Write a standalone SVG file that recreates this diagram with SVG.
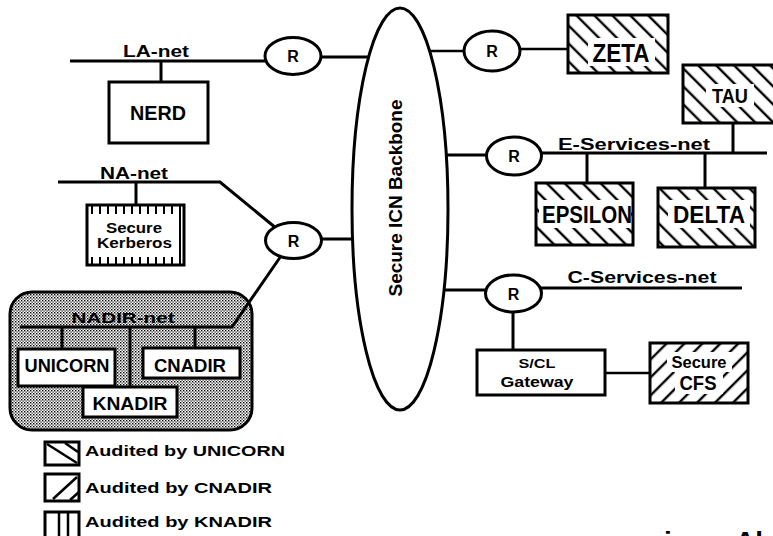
<svg xmlns="http://www.w3.org/2000/svg" width="773" height="536" viewBox="0 0 773 536">
<style>
.ln{stroke:#000;stroke-width:3;fill:none}
.thin{stroke:#000;stroke-width:2.5;fill:none}
.box{fill:#fff;stroke:#000;stroke-width:3}
.rt{fill:#fff;stroke:#000;stroke-width:3}
.w{fill:#fff}
.t{font-family:"Liberation Sans",Arial,sans-serif;font-weight:bold;fill:#000}
</style>
<defs>
<pattern id="hU" width="12.7" height="12.7" patternUnits="userSpaceOnUse" patternTransform="rotate(-45)">
<rect width="12.7" height="12.7" fill="#fff"/>
<line x1="3" y1="0" x2="3" y2="12.7" stroke="#000" stroke-width="2.4"/>
</pattern>
<pattern id="hC" width="12.7" height="12.7" patternUnits="userSpaceOnUse" patternTransform="rotate(45)">
<rect width="12.7" height="12.7" fill="#fff"/>
<line x1="3" y1="0" x2="3" y2="12.7" stroke="#000" stroke-width="2.4"/>
</pattern>
<pattern id="hK" width="8" height="8" patternUnits="userSpaceOnUse">
<rect width="8" height="8" fill="#fff"/>
<line x1="4" y1="0" x2="4" y2="8" stroke="#000" stroke-width="2"/>
</pattern>
<pattern id="stip" width="3" height="3" patternUnits="userSpaceOnUse">
<rect width="3" height="3" fill="#fff"/>
<rect x="0" y="0" width="1.4" height="1.4" fill="#000"/>
<rect x="1.5" y="1.5" width="1.2" height="1.2" fill="#000"/>
</pattern>
</defs>

<!-- NADIR container -->
<g id="nadir-net-area">
<rect x="10" y="292" width="242" height="138" rx="22" fill="url(#stip)" stroke="#000" stroke-width="3"/>
<text class="t" x="123" y="323" font-size="15" text-anchor="middle" textLength="103" lengthAdjust="spacingAndGlyphs">NADIR-net</text>
</g>

<g id="connectors">
<path class="ln" d="M70,61 H266"/>
<path class="ln" d="M320,57 H385"/>
<path class="ln" d="M161,61 V82"/>
<path class="thin" d="M420,51 H464"/>
<path class="thin" d="M520,49 H568"/>
<path class="ln" d="M733,123 V153"/>
<path class="ln" d="M430,155 H487"/>
<path class="ln" d="M541,153 H767"/>
<path class="ln" d="M587,153 V183"/>
<path class="ln" d="M705,153 V188"/>
<path class="ln" d="M430,290 H486"/>
<path class="ln" d="M541,288 H742"/>
<path class="ln" d="M513,312 V350"/>
<path class="thin" d="M605,373 H650"/>
<path class="ln" d="M58,182 H220 L282,233"/>
<path class="ln" d="M321,239 H385"/>
<path class="ln" d="M136,182 V205"/>
<path class="ln" d="M20,327 H232 L281,256"/>
<path class="ln" d="M62,327 V350"/>
<path class="ln" d="M130,327 V388"/>
<path class="ln" d="M195,327 V348"/>
</g>

<g id="backbone">
<ellipse cx="400" cy="209" rx="48" ry="201" class="rt"/>
<text class="t" transform="translate(402,198) rotate(-90)" x="0" y="0" font-size="19" text-anchor="middle" textLength="197" lengthAdjust="spacingAndGlyphs">Secure ICN Backbone</text>
</g>

<g id="router-la">
<ellipse cx="293" cy="56" rx="28" ry="18.5" class="rt"/>
<text class="t" x="293" y="62" font-size="16" text-anchor="middle">R</text>
</g>
<g id="router-zeta">
<ellipse cx="492" cy="51" rx="28" ry="20" class="rt"/>
<text class="t" x="492" y="57" font-size="16" text-anchor="middle">R</text>
</g>
<g id="router-e">
<ellipse cx="514" cy="156" rx="27.5" ry="19" class="rt"/>
<text class="t" x="514" y="162" font-size="16" text-anchor="middle">R</text>
</g>
<g id="router-na">
<ellipse cx="293.5" cy="240.5" rx="28" ry="18" class="rt"/>
<text class="t" x="293.5" y="246.5" font-size="16" text-anchor="middle">R</text>
</g>
<g id="router-c">
<ellipse cx="513.5" cy="293.5" rx="28" ry="18.5" class="rt"/>
<text class="t" x="513.5" y="299.5" font-size="16" text-anchor="middle">R</text>
</g>

<g id="la-net-label"><text class="t" x="156" y="57" font-size="16" text-anchor="middle" textLength="66" lengthAdjust="spacingAndGlyphs">LA-net</text></g>
<g id="na-net-label"><text class="t" x="134" y="179" font-size="16" text-anchor="middle" textLength="68" lengthAdjust="spacingAndGlyphs">NA-net</text></g>
<g id="e-net-label"><text class="t" x="634" y="150" font-size="16" text-anchor="middle" textLength="152" lengthAdjust="spacingAndGlyphs">E-Services-net</text></g>
<g id="c-net-label"><text class="t" x="642" y="283" font-size="16" text-anchor="middle" textLength="149" lengthAdjust="spacingAndGlyphs">C-Services-net</text></g>

<g id="nerd">
<rect x="109" y="82" width="99" height="61" class="box"/>
<text class="t" x="158" y="120" font-size="20" text-anchor="middle" textLength="56" lengthAdjust="spacingAndGlyphs">NERD</text>
</g>

<g id="zeta">
<rect x="568" y="15" width="100" height="58" fill="url(#hU)" stroke="#000" stroke-width="3"/>
<rect x="588" y="38" width="67" height="28" class="w"/>
<text class="t" x="621" y="62" font-size="25" text-anchor="middle" textLength="57" lengthAdjust="spacingAndGlyphs">ZETA</text>
</g>

<g id="tau">
<rect x="683" y="65" width="100" height="58" fill="url(#hU)" stroke="#000" stroke-width="3"/>
<rect x="706" y="84" width="48" height="23" class="w"/>
<text class="t" x="730" y="103" font-size="21" text-anchor="middle" textLength="36" lengthAdjust="spacingAndGlyphs">TAU</text>
</g>

<g id="epsilon">
<rect x="536" y="183" width="97" height="62" fill="url(#hU)" stroke="#000" stroke-width="3"/>
<rect x="539" y="200" width="92" height="28" class="w"/>
<text class="t" x="587" y="223" font-size="24" text-anchor="middle" textLength="90" lengthAdjust="spacingAndGlyphs">EPSILON</text>
</g>

<g id="delta">
<rect x="658" y="188" width="97" height="59" fill="url(#hU)" stroke="#000" stroke-width="3"/>
<rect x="668" y="200" width="82" height="28" class="w"/>
<text class="t" x="709" y="223" font-size="24" text-anchor="middle" textLength="72" lengthAdjust="spacingAndGlyphs">DELTA</text>
</g>

<g id="gateway">
<rect x="477" y="350" width="128" height="45" class="box"/>
<text class="t" x="537" y="368" font-size="13" text-anchor="middle" textLength="37" lengthAdjust="spacingAndGlyphs">S/CL</text>
<text class="t" x="537" y="387" font-size="14" text-anchor="middle" textLength="73" lengthAdjust="spacingAndGlyphs">Gateway</text>
</g>

<g id="cfs">
<rect x="650" y="343" width="98" height="60" fill="url(#hC)" stroke="#000" stroke-width="3"/>
<rect x="667" y="352" width="65" height="20" class="w"/>
<rect x="675" y="372" width="48" height="22" class="w"/>
<text class="t" x="699" y="368" font-size="16" text-anchor="middle" textLength="55" lengthAdjust="spacingAndGlyphs">Secure</text>
<text class="t" x="698" y="390" font-size="21" text-anchor="middle" textLength="37" lengthAdjust="spacingAndGlyphs">CFS</text>
</g>

<g id="kerberos">
<rect x="87" y="205" width="97" height="60" fill="url(#hK)" stroke="#000" stroke-width="3"/>
<rect x="89" y="214" width="89" height="43" class="w"/>
<text class="t" x="134" y="233" font-size="14" text-anchor="middle" textLength="56" lengthAdjust="spacingAndGlyphs">Secure</text>
<text class="t" x="134.5" y="248" font-size="14" text-anchor="middle" textLength="75" lengthAdjust="spacingAndGlyphs">Kerberos</text>
</g>

<g id="unicorn">
<rect x="18" y="349" width="97" height="37" class="box"/>
<text class="t" x="67" y="372" font-size="19" text-anchor="middle" textLength="85" lengthAdjust="spacingAndGlyphs">UNICORN</text>
</g>
<g id="cnadir">
<rect x="143" y="348" width="97" height="30" class="box"/>
<text class="t" x="190" y="372" font-size="19" text-anchor="middle" textLength="72" lengthAdjust="spacingAndGlyphs">CNADIR</text>
</g>
<g id="knadir">
<rect x="83" y="387" width="94" height="30" class="box"/>
<text class="t" x="130" y="410" font-size="19" text-anchor="middle" textLength="75" lengthAdjust="spacingAndGlyphs">KNADIR</text>
</g>

<g id="legend">
<rect x="45" y="442" width="34" height="23" class="box"/>
<path class="thin" d="M47,444 L77,463 M65,443 L78,452"/>
<text class="t" x="85" y="456" font-size="15" textLength="200" lengthAdjust="spacingAndGlyphs">Audited by UNICORN</text>
<rect x="45" y="474" width="34" height="27" class="box"/>
<path class="thin" d="M53,499 L77,477 M70,500 L79,492"/>
<text class="t" x="85" y="493" font-size="15" textLength="187" lengthAdjust="spacingAndGlyphs">Audited by CNADIR</text>
<rect x="45" y="512" width="34" height="30" class="box"/>
<path class="thin" d="M59,512 V540 M68,512 V540"/>
<text class="t" x="85" y="527" font-size="15" textLength="187" lengthAdjust="spacingAndGlyphs">Audited by KNADIR</text>
</g>

<g id="cut-caption">
<text class="t" x="664" y="551" font-size="28">i</text>
<text class="t" x="735" y="551" font-size="28">Al</text>
</g>
</svg>
